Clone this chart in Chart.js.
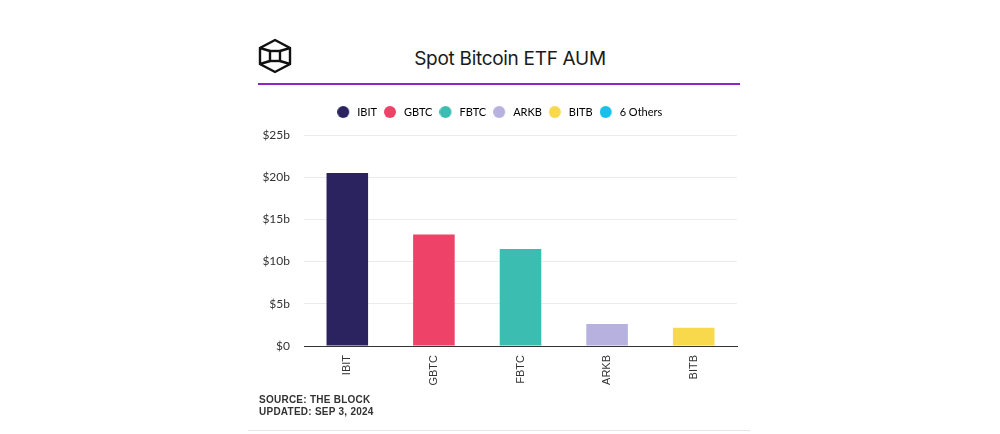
<!DOCTYPE html>
<html>
<head>
<meta charset="utf-8">
<script src="https://cdn.jsdelivr.net/npm/chart.js@4/dist/chart.umd.min.js"></script>
<style>
  html,body{margin:0;padding:0;background:#fff;width:1000px;height:434px;overflow:hidden;}
  #card{position:absolute;left:248px;top:0;width:502px;height:430px;border-bottom:1px solid #e6e6e6;}
  #title{position:absolute;left:22px;width:480px;top:47px;text-align:center;font-family:Inter,"Noto Sans",sans-serif;font-size:19px;color:#1a1a1a;letter-spacing:-0.3px;}
  #rule{position:absolute;left:10px;width:482px;top:83px;height:2px;background:#8e24c4;}
  #logo{position:absolute;left:9px;top:38px;}
  #wrap{position:absolute;left:0;top:95px;width:502px;height:300px;}
  #foot{position:absolute;left:11px;top:394px;font-family:"Liberation Sans",Arial,sans-serif;font-weight:bold;font-size:10px;color:#333;letter-spacing:0.25px;line-height:12px;}
</style>
</head>
<body>
<div id="card">
  <svg id="logo" width="36" height="36" viewBox="0 0 36 36">
    <g fill="none" stroke="#111" stroke-width="2.4" stroke-linejoin="miter">
      <polygon points="18,2 33,10 33,26 18,34 3,26 3,10"/>
      <rect x="13" y="13" width="10" height="10"/>
      <line x1="3" y1="10" x2="13" y2="13"/>
      <line x1="33" y1="10" x2="23" y2="13"/>
      <line x1="3" y1="26" x2="13" y2="23"/>
      <line x1="33" y1="26" x2="23" y2="23"/>
    </g>
  </svg>
  <div id="title">Spot Bitcoin ETF AUM</div>
  <div id="rule"></div>
  <div id="wrap"><canvas id="c" width="502" height="300"></canvas></div>
  <div id="foot">SOURCE: THE BLOCK<br>UPDATED: SEP 3, 2024</div>
</div>
<script>
const categories = ["IBIT", "GBTC", "FBTC", "ARKB", "BITB"];
const aumBillions = [20.5, 13.2, 11.5, 2.6, 2.15];
const legendNames = ["IBIT", "GBTC", "FBTC", "ARKB", "BITB", "6 Others"];
const legendColors = ["#2a2360", "#ef4268", "#3bbdb2", "#b7b1df", "#f9d94c", "#16c0ea"];
const yTickValues = [0, 5, 10, 15, 20, 25];

function dotImage(color) {
  const cv = document.createElement('canvas');
  cv.width = 18; cv.height = 12;
  const g = cv.getContext('2d');
  g.fillStyle = color;
  g.beginPath(); g.arc(6, 6, 6, 0, Math.PI * 2); g.fill();
  return cv;
}
const legendDots = legendColors.map(dotImage);

const legendHeightPlugin = {
  id: 'legendHeight',
  beforeInit(chart) {
    const orig = chart.legend.fit;
    chart.legend.fit = function () {
      orig.call(this);
      this.height = 40;
    };
  },
  afterLayout(chart) {
    chart.legend.left += 9;
    chart.legend.right += 9;
    chart.legend.top += 1;
    chart.legend.bottom += 1;
  }
};

new Chart(document.getElementById('c'), {
  type: 'bar',
  data: {
    labels: categories,
    datasets: [{
      label: 'AUM',
      data: aumBillions,
      backgroundColor: legendColors.slice(0, categories.length),
      categoryPercentage: 0.8,
      barPercentage: 0.6
    }]
  },
  options: {
    responsive: false,
    animation: false,
    layout: { padding: { left: 0, right: 13, top: 0, bottom: 0 } },
    plugins: {
      tooltip: { enabled: false },
      legend: {
        display: true,
        position: 'top',
        labels: {
          usePointStyle: true,
          boxWidth: 11,
          boxHeight: 11,
          padding: 10.5,
          color: '#333',
          font: { family: 'Lato, "Noto Sans", sans-serif', size: 11 },
          generateLabels() {
            return legendNames.map((n, i) => ({
              text: n,
              fillStyle: legendColors[i],
              strokeStyle: legendColors[i],
              lineWidth: 0,
              pointStyle: legendDots[i],
              hidden: false,
              datasetIndex: 0
            }));
          }
        },
        onClick() {}
      }
    },
    scales: {
      x: {
        grid: { display: false, drawTicks: false },
        border: { display: true, color: '#333', width: 1 },
        ticks: {
          minRotation: 90, maxRotation: 90, padding: 9,
          color: '#333',
          font: { family: '"Liberation Sans", Arial, sans-serif', size: 11 }
        },
        afterFit(s) { s.height = 49; }
      },
      y: {
        min: 0, max: 25,
        afterBuildTicks(s) { s.ticks = yTickValues.map(v => ({ value: v })); },
        grid: { color: '#ececec', drawTicks: false, lineWidth: 1 },
        border: { display: false },
        ticks: {
          padding: 14,
          color: '#333',
          font: { family: 'Lato, "Noto Sans", sans-serif', size: 12 },
          callback: v => '$' + v + (v === 0 ? '' : 'b')
        },
        afterFit(s) { s.width = 56; }
      }
    }
  },
  plugins: [legendHeightPlugin]
});
</script>
</body>
</html>
